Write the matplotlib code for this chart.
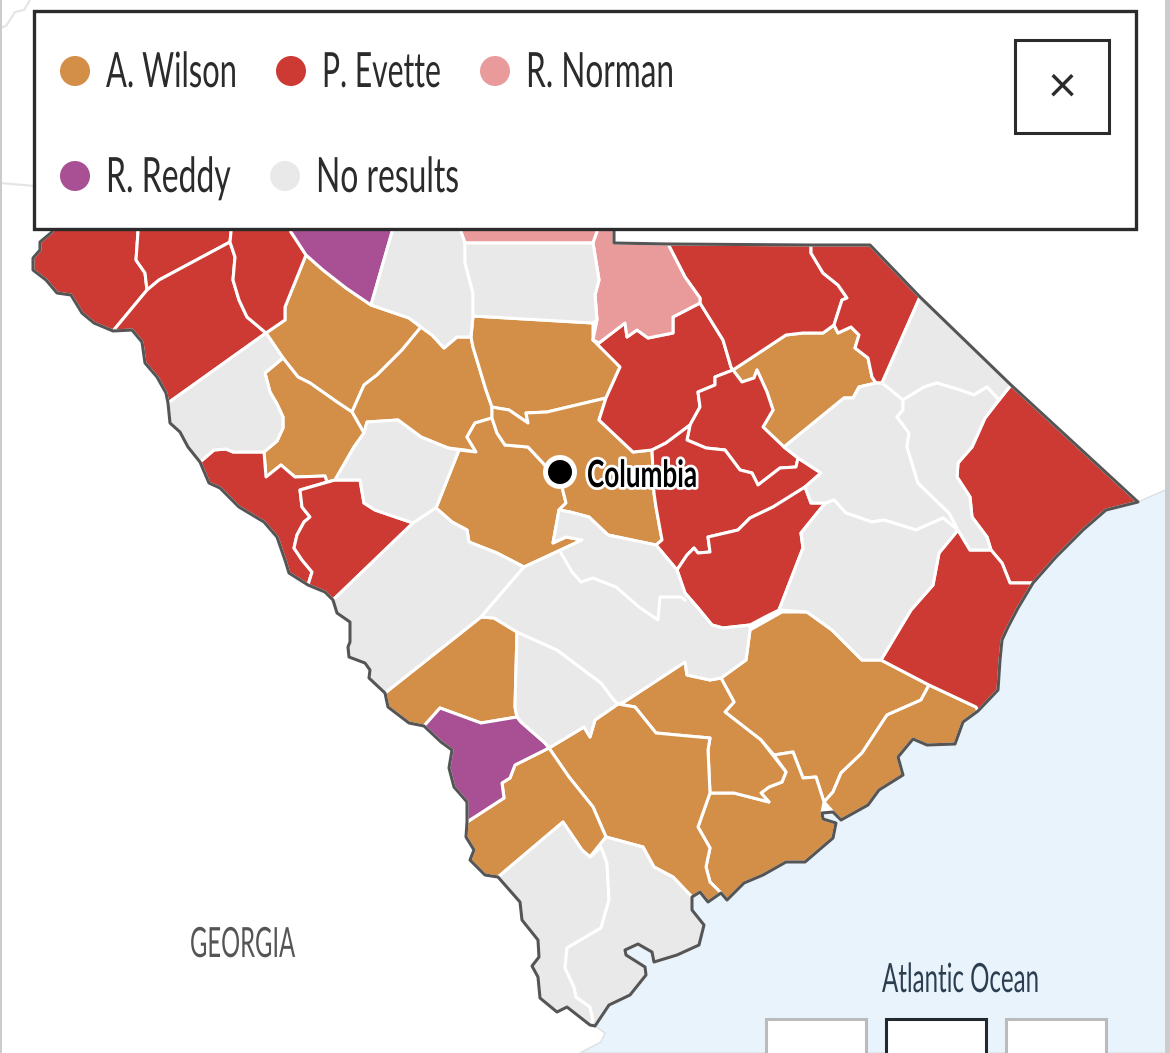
"""
South Carolina county results map with a legend box on top.
Boundaries are read off the picture, in pixel units of the 1170x1053 frame.
"""
import matplotlib
matplotlib.use('Agg')
import matplotlib.pyplot as plt
from matplotlib.patches import Polygon, Rectangle, Circle
from matplotlib.patheffects import AbstractPathEffect
from matplotlib.transforms import Affine2D

ORANGE = '#d38e47'
RED = '#cc3a33'
PINK = '#e99b9b'
PURPLE = '#a95095'
GREY = '#e9e9e9'
OCEAN = '#e8f3fc'
BORDER = '#555555'
INK = '#2b2b2b'

# state border, clockwise, the top part sits under the legend box
OUTLINE = [(60,200),(138,200),(231,200),(285,200),(392,200),(461,200),(597,200),(614,200),(614,243),
    (668,244),(811,245),(870,245),(920,297),(1011,385),(1138,502),(1106,510),(1083,530),(1056,557),
    (1033,583),(1018,608),(1008,627),(1002,640),(1000,660),(998,690),(978,711),(963,722),(955,744),
    (927,745),(913,739),(898,757),(903,775),(879,790),(868,805),(841,820),(833,812),(822,813),(823,819),
    (836,823),(833,838),(805,862),(786,862),(763,875),(744,883),(727,900),(721,893),(708,902),(700,892),
    (692,897),(692,910),(704,925),(699,945),(677,955),(654,962),(652,952),(638,944),(625,950),(626,955),
    (645,967),(646,975),(630,995),(609,1005),(595,1026),(590,1025),(567,1007),(557,1012),(540,998),
    (538,977),(532,966),(539,957),(538,940),(522,920),(520,902),(498,877),(485,875),(470,860),(474,850),
    (466,837),(467,822),(467,802),(454,787),(449,768),(452,750),(441,742),(424,726),(409,723),(388,707),
    (385,693),(369,678),(370,670),(365,663),(349,657),(348,647),(350,642),(350,622),(337,613),(333,600),
    (325,592),(308,585),(289,573),(285,560),(277,537),(264,522),(239,507),(220,488),(209,483),(200,462),
    (188,447),(180,432),(170,423),(168,403),(166,393),(157,377),(145,363),(142,342),(132,330),(113,331),
    (94,323),(82,313),(71,295),(57,293),(46,280),(33,270),(33,258),(40,250),(40,242),(52,232)]


def edge(a, b):
    # piece of the state border between two of its points
    i, j = OUTLINE.index(a), OUTLINE.index(b)
    return OUTLINE[i:j + 1] if i <= j else OUTLINE[j:i + 1][::-1]


oconee = [(113,331),(147,290),(145,273),(136,260),(138,232),(138,200),(60,200)] + edge((52,232), (113,331))
pickens = [(138,200),(138,232),(136,260),(145,273),(147,290),(159,280),(230,242),(231,232),(231,200)]
anderson = [(113,331),(147,290),(159,280),(230,242),(235,257),(233,280),(239,300),(247,317),(266,333),
    (168,403)] + edge((168,403), (113,331))
greenville = [(231,200),(231,232),(230,242),(235,257),(233,280),(239,300),(247,317),(266,333),(285,320),
    (285,307),(306,255),(291,232),(285,200)]
spartanburg = [(285,200),(291,232),(306,255),(323,270),(346,288),(371,305),(392,232),(392,200)]
union = [(392,200),(392,232),(371,305),(409,318),(421,327),(432,335),(444,348),(457,337),(471,337),(473,316),
    (473,293),(465,263),(465,243),(461,232),(461,200)]
york = [(461,200),(461,232),(465,243),(593,243),(597,232),(597,200)]
chester = [(465,243),(593,243),(599,280),(595,295),(597,320),(593,323),(473,316),(473,293),(465,263)]
lancaster = [(668,244),(685,277),(700,298),(700,303),(673,317),(673,333),(648,338),(637,330),(627,337),
    (625,323),(599,343),(593,340),(597,320),(595,295),(599,280),(593,243),(597,232)] + edge((597,200), (668,244))
laurens = [(306,255),(323,270),(346,288),(371,305),(409,318),(421,327),(402,350),(377,375),(364,385),(352,412),
    (337,402),(310,383),(298,377),(283,358),(266,333),(285,320),(285,307)]
newberry = [(421,327),(402,350),(377,375),(364,385),(352,412),(364,433),(367,422),(398,420),(421,437),(448,448),
    (465,450),(476,452),(467,437),(475,423),(492,418),(492,407),(486,390),(473,347),(471,337),(457,337),
    (444,348),(432,335)]
abbeville = [(283,358),(265,373),(270,392),(277,404),(283,417),(283,428),(277,441),(264,452),(266,477),(281,465),(295,477),(325,476),
    (327,482),(335,480),(354,447),(364,433),(352,412),(337,402),(310,383),(298,377)]
oconee_south = [(168,403),(266,333),(283,358),(265,373),(270,392),(277,404),(283,417),(283,428),(277,441),(264,452),(233,452),
    (226,449),(214,450),(200,462)] + edge((200,462), (168,403))[1:]
mccormick = [(200,462),(214,450),(226,449),(233,452),(264,452),(266,477),(281,465),(295,477),(325,476),(327,482),
    (300,490),(302,507),(310,517),(304,522),(297,535),(294,548),(302,560),(312,572),(308,585)] + edge((308,585), (200,462))[1:]
edgefield = [(300,490),(335,480),(360,480),(364,503),(375,510),(413,523),(333,600),(325,592),(308,585),(312,572),
    (302,560),(294,548),(297,535),(304,522),(310,517),(302,507)]
saluda = [(364,433),(367,422),(398,420),(421,437),(448,448),(459,450),(436,508),(413,523),(375,510),(364,503),
    (360,480),(335,480),(354,447)]
lexington = [(459,450),(476,452),(467,437),(475,423),(492,418),(497,433),(505,445),(528,447),(543,463),(562,487),
    (566,503),(559,510),(553,543),(566,537),(582,540),(524,567),(497,553),(469,542),(467,530),(452,522),(436,508)]
fairfield = [(473,316),(593,323),(593,340),(599,343),(620,367),(606,398),(547,412),(526,413),(528,423),(509,410),
    (497,408),(492,407),(486,390),(473,347),(471,337)]
richland = [(492,418),(492,407),(497,408),(509,410),(528,423),(526,413),(547,412),(606,398),(599,420),(633,452),
    (652,450),(654,493),(656,507),(662,540),(656,545),(608,535),(589,517),(570,512),(559,510),(566,503),(562,487),
    (543,463),(528,447),(505,445),(497,433)]
kershaw = [(593,340),(599,343),(625,323),(627,337),(637,330),(648,338),(673,333),(673,317),(700,303),(723,340),
    (731,367),(733,370),(715,377),(715,385),(698,392),(700,407),(690,425),(666,443),(652,450),(633,452),(599,420),
    (606,398),(620,367)]
lee = [(715,377),(715,385),(698,392),(700,407),(690,425),(687,440),(706,448),(725,450),(740,470),(752,473),(758,485),
    (780,468),(796,467),(798,458),(784,447),(763,427),(773,410),(767,392),(757,370),(754,378),(742,382),(733,370)]
sumter = [(652,450),(666,443),(690,425),(687,440),(706,448),(725,450),(740,470),(752,473),(758,485),(780,468),(796,467),
    (798,458),(821,473),(805,487),(773,507),(750,518),(738,530),(708,537),(710,552),(698,553),(694,548),(687,555),
    (677,570),(656,545),(662,540),(656,507),(654,493)]
clarendon = [(805,487),(811,503),(826,503),(822,507),(801,533),(803,548),(779,610),(765,617),(750,625),(723,628),
    (712,625),(698,608),(685,593),(677,570),(687,555),(694,548),(698,553),(710,552),(708,537),(738,530),(750,518),(773,507)]
chesterfield = [(668,244),(685,277),(700,298),(700,303),(723,340),(731,367),(733,370),(786,335),(803,333),(823,333),
    (834,325),(842,300),(847,298),(838,285),(823,273),(811,253),(811,245)]
marlboro = [(811,245),(811,253),(823,273),(838,285),(847,298),(842,300),(834,325),(838,333),(851,327),(859,335),(855,348),
    (868,358),(872,377),(876,383),(882,383),(920,297),(870,245)]
darlington = [(733,370),(786,335),(803,333),(823,333),(834,325),(838,333),(851,327),(859,335),(855,348),(868,358),(872,377),
    (876,383),(859,387),(853,398),(844,398),(784,447),(763,427),(773,410),(767,392),(757,370),(754,378),(742,382)]
florence = [(876,383),(882,383),(891,390),(903,400),(903,410),(897,417),(909,433),(907,447),(918,483),(949,513),(958,530),
    (943,518),(916,530),(884,520),(872,522),(846,513),(834,500),(826,503),(811,503),(805,487),(821,473),(798,458),(784,447),
    (844,398),(853,398),(859,387)]
dillon = [(882,383),(920,297),(1011,385),(999,400),(987,387),(974,395),(960,390),(937,383),(924,387),(903,400),(891,390)]
marion = [(903,400),(924,387),(937,383),(960,390),(974,395),(987,387),(999,400),(985,418),(972,447),(958,463),(957,477),
    (970,497),(972,517),(987,537),(991,550),(970,550),(958,530),(949,513),(918,483),(907,447),(909,433),(897,417),(903,410)]
horry = [(1011,385),(999,400),(985,418),(972,447),(958,463),(957,477),(970,497),(972,517),(987,537),(991,550),(1002,563),
    (1010,583),(1033,583)] + edge((1033,583), (1011,385))[1:]
georgetown = [(958,530),(970,550),(991,550),(1002,563),(1010,583),(1033,583)] + edge((1033,583), (978,711))[1:] + [
    (976,707),(929,685),(881,660),(893,640),(911,610),(933,585),(939,553)]
williamsburg = [(826,503),(834,500),(846,513),(872,522),(884,520),(916,530),(943,518),(958,530),(939,553),(933,585),(911,610),
    (893,640),(881,660),(862,660),(832,630),(807,612),(779,610),(803,548),(801,533),(822,507)]
berkeley = [(721,678),(746,660),(750,630),(782,612),(807,612),(832,630),(862,660),(881,660),(929,685),(921,700),(887,715),
    (862,753),(841,773),(833,792),(824,802),(816,777),(803,778),(793,752),(774,755),(761,740),(725,712),(734,702)]
horry_south = [(929,685),(976,707),(978,711)] + edge((978,711), (833,812))[1:] + [(824,802),(833,792),(841,773),(862,753),(887,715),(921,700)]
charleston = [(710,793),(734,793),(769,802),(761,793),(769,787),(782,782),(786,772),(774,755),(793,752),(803,778),(816,777),
    (824,802),(822,813)] + edge((822,813), (721,893))[1:] + [(710,882),(706,867),(710,848),(698,827)]
dorchester = [(618,704),(624,702),(685,662),(687,675),(710,680),(721,678),(734,702),(725,712),(761,740),(786,772),(782,782),
    (769,787),(761,793),(769,802),(734,793),(710,793),(708,750),(710,738),(677,735),(656,733),(635,707)]
colleton = [(549,748),(584,727),(590,737),(595,720),(618,704),(635,707),(656,733),(677,735),(710,738),(708,750),(710,793),
    (698,827),(710,848),(706,867),(710,882),(721,893),(708,902),(700,892),(692,897),(673,877),(654,867),(643,847),(606,837),(593,807),(569,777)]
hampton = [(549,748),(515,765),(510,778),(502,783),(504,798),(467,822)] + edge((467,822), (498,877))[1:] + [
    (563,822),(582,850),(590,857),(606,837),(593,807),(569,777)]
jasper = [(498,877),(563,822),(582,850),(590,857),(601,847),(607,863),(609,900),(601,928),(584,938),(567,948),(565,968),
    (574,987),(576,997),(590,1007),(593,1020),(590,1025)] + edge((590,1025), (498,877))[1:]
beaufort = [(606,837),(643,847),(654,867),(673,877),(692,897)] + edge((692,897), (595,1026))[1:] + [(590,1025),(593,1020),
    (590,1007),(576,997),(574,987),(565,968),(567,948),(584,938),(601,928),(609,900),(607,863),(601,847),(590,857)]
barnwell = [(481,617),(494,618),(517,632),(515,707),(517,717),(481,723),(440,708),(424,726),(409,723),(388,707),(385,693)]
allendale = [(424,726),(440,708),(481,723),(517,717),(521,722),(545,743),(549,748),(515,765),(510,778),(502,783),(504,798),
    (467,822),(467,802),(454,787),(449,768),(452,750),(441,742)]
aiken = [(333,600),(413,523),(436,508),(452,522),(467,530),(469,542),(497,553),(524,567),(481,617),(385,693)] + edge((385,693), (333,600))[1:]
bamberg = [(517,632),(557,650),(601,683),(614,700),(618,704),(595,720),(590,737),(584,727),(549,748),(545,743),(521,722),
    (517,717),(515,707)]
orangeburg = [(524,567),(582,540),(566,537),(553,543),(559,510),(570,512),(589,517),(608,535),(656,545),(677,570),(685,593),
    (698,608),(712,625),(723,628),(750,625),(750,630),(746,660),(721,678),(710,680),(687,675),(685,662),(624,702),(618,704),
    (614,700),(601,683),(557,650),(517,632),(494,618),(481,617)]
calhoun_line = [(561,553),(572,572),(581,582),(593,578),(616,587),(639,607),(658,620),(660,597),(681,597),(685,600)]

wilson_counties = [laurens, newberry, abbeville, lexington, fairfield, richland, darlington, berkeley, horry_south,
                   charleston, dorchester, colleton, hampton, barnwell]
evette_counties = [oconee, pickens, anderson, greenville, mccormick, edgefield, kershaw, lee, sumter, clarendon,
                   chesterfield, marlboro, horry, georgetown]
norman_counties = [york, lancaster]
reddy_counties = [spartanburg, allendale]
empty_counties = [union, chester, oconee_south, saluda, florence, dillon, marion, williamsburg, jasper, beaufort, aiken,
                  bamberg, orangeburg]

coast_north = [(1170,488)] + edge((1138,502), (595,1026)) + [(605,1033),(601,1042),(580,1053),(1170,1053)]

legend_names = ['A. Wilson', 'P. Evette', 'R. Norman', 'R. Reddy', 'No results']
legend_colors = [ORANGE, RED, PINK, PURPLE, GREY]
legend_dots = [(75,71),(291,71),(495,71),(75,176),(285,176)]
legend_text_x = [106,322,526,106,316]
legend_text_w = [131,119,148,125,143]
legend_base = [87,87,87,192,192]


class Squeeze(AbstractPathEffect):
    # narrows the glyphs, none of the installed fonts is condensed enough
    def __init__(self, sx, halo=None, halo_w=0):
        super().__init__()
        self.sx, self.halo, self.halo_w = sx, halo, halo_w

    def draw_path(self, renderer, gc, tpath, affine, rgbFace=None):
        squeezed = Affine2D().scale(self.sx, 1) + affine
        if self.halo:
            gc0 = renderer.new_gc()
            gc0.copy_properties(gc)
            gc0.set_linewidth(self.halo_w)
            gc0.set_foreground(self.halo)
            gc0.set_joinstyle('round')
            renderer.draw_path(gc0, tpath, squeezed, rgbFace)
            gc0.restore()
        renderer.draw_path(gc, tpath, squeezed, rgbFace)


fig = plt.figure(figsize=(11.7, 10.53), dpi=100)
ax = fig.add_axes([0, 0, 1, 1])
ax.set_xlim(0, 1170)
ax.set_ylim(1053, 0)
ax.axis('off')
renderer = fig.canvas.get_renderer()


def label(x, base, s, width, size, color, weight='normal', halo=None, halo_w=0, z=20):
    t = ax.text(x, base, s, fontsize=size, color=color, family='Lato', weight=weight,
                ha='left', va='baseline', zorder=z)
    sx = width / t.get_window_extent(renderer).width
    t.set_path_effects([Squeeze(sx, halo, halo_w)])
    return t


ax.add_patch(Polygon(coast_north, closed=True, fc=OCEAN, ec='#dfe3e6', lw=1.2, zorder=1))
ax.plot([0, 35], [183, 186], color='#e4e4e4', lw=1.5, zorder=1)
ax.plot([0, 6, 15, 24, 30], [28, 26, 12, 10, 0], color='#e4e4e4', lw=1.5, zorder=1)

for counties, color in [(wilson_counties, ORANGE), (evette_counties, RED), (norman_counties, PINK),
                        (reddy_counties, PURPLE), (empty_counties, GREY)]:
    for county in counties:
        ax.add_patch(Polygon(county, closed=True, fc=color, ec='white', lw=2.2, joinstyle='round', zorder=3))
ax.plot(*zip(*calhoun_line), color='white', lw=2.2, zorder=4)
ax.add_patch(Polygon(OUTLINE, closed=True, fill=False, ec=BORDER, lw=2.2, joinstyle='round', zorder=5))

ax.add_patch(Circle((560, 472), 17, fc='white', ec='none', zorder=6))
ax.add_patch(Circle((560, 472), 12, fc='black', ec='none', zorder=7))
label(587, 487, 'Columbia', 110, 27, 'black', weight='bold', halo='white', halo_w=4, z=8)

label(190, 957, 'GEORGIA', 105, 30, '#555555')
label(882, 992, 'Atlantic Ocean', 157, 29, '#2c3e50')

# bottom button row is cut off by the frame
for bx, bc in zip([766, 886, 1006], ['#bbbbbb', '#22282e', '#bbbbbb']):
    ax.add_patch(Rectangle((bx, 1019), 100, 60, fc='white', ec=bc, lw=2.2, zorder=9))

ax.add_patch(Rectangle((0, 0), 2, 1053, fc='#cccccc', ec='none', zorder=9))
ax.add_patch(Rectangle((1165, 0), 5, 1053, fc='#cccccc', ec='none', zorder=9))

# legend box
ax.add_patch(Rectangle((34, 11), 1102, 218, fc='white', ec=INK, lw=2.4, zorder=10))
for name, color, dot, tx, tw, base in zip(legend_names, legend_colors, legend_dots, legend_text_x, legend_text_w, legend_base):
    ax.add_patch(Circle(dot, 15, fc=color, ec='none', zorder=11))
    label(tx, base, name, tw, 35, INK)

ax.add_patch(Rectangle((1015, 40), 94, 93, fc='white', ec=INK, lw=2.2, zorder=11))
ax.text(1062, 88, '\u00d7', fontsize=36, color=INK, family='Lato', ha='center', va='center', zorder=12)

fig.savefig('out.png', dpi=100)
